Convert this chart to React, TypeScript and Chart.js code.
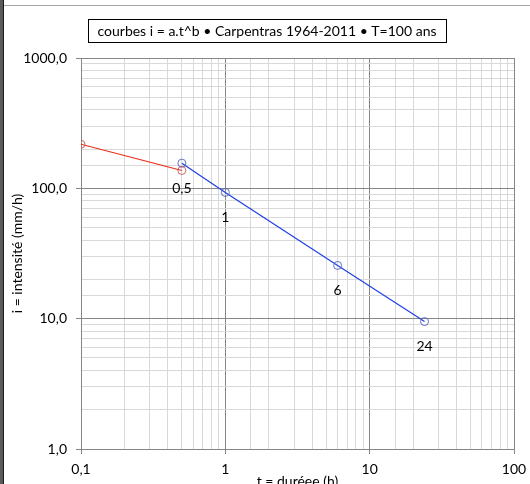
import React, { useEffect, useRef } from 'react';
import { Chart, registerables } from 'chart.js';

Chart.register(...registerables);

const TITLE = 'courbes i = a.t^b • Carpentras 1964-2011 • T=100 ans';
const X_TITLE = 't = duréee (h)';
const Y_TITLE = 'i = intensité (mm/h)';

const redDurations = [0.1, 0.5];
const redIntensities = [218, 137];
const blueDurations = [0.5, 1, 6, 24];
const blueIntensities = [156, 93, 25.6, 9.5];
const blueLabels = ['0,5', '1', '6', '24'];

const xMajorTicks = [0.1, 1, 10, 100];
const xMajorLabels = ['0,1', '1', '10', '100'];
const yMajorTicks = [1, 10, 100, 1000];
const yMajorLabels = ['1,0', '10,0', '100,0', '1000,0'];

const FONT = 'Lato, "Open Sans", sans-serif';
const MAJOR = '#868686';
const MINOR = '#d9d9d9';

const isPow10 = (v: number) => Math.abs(Math.log10(v) - Math.round(Math.log10(v))) < 1e-6;
const labelFor = (v: number, ticks: number[], labels: string[]) => {
  const i = ticks.findIndex((t) => Math.abs(v - t) / t < 1e-6);
  return i >= 0 ? labels[i] : '';
};

const decorPlugin = {
  id: 'decor',
  beforeDraw(chart: any) {
    const ctx = chart.ctx;
    ctx.save();
    ctx.fillStyle = '#ffffff';
    ctx.fillRect(0, 0, chart.width, chart.height);
    ctx.fillStyle = '#5a5a5a';
    ctx.fillRect(0, 0, 3, chart.height);
    ctx.fillStyle = '#1a1a1a';
    ctx.fillRect(3, 0, 1, chart.height);
    ctx.fillStyle = '#a6a6a6';
    ctx.fillRect(4, 5, chart.width - 4, 1);
    ctx.restore();
  },
  afterDraw(chart: any) {
    const ctx = chart.ctx;
    ctx.save();
    ctx.strokeStyle = '#000000';
    ctx.lineWidth = 1;
    ctx.strokeRect(88.5, 19.5, 358, 23);
    ctx.fillStyle = '#000000';
    ctx.font = '14px ' + FONT;
    ctx.textAlign = 'center';
    ctx.textBaseline = 'middle';
    ctx.fillText(TITLE, 267, 31);
    ctx.restore();
  },
};

const pointLabelPlugin = {
  id: 'pointLabels',
  afterDatasetsDraw(chart: any) {
    const ctx = chart.ctx;
    const meta = chart.getDatasetMeta(1);
    ctx.save();
    ctx.fillStyle = '#000000';
    ctx.font = '14px ' + FONT;
    ctx.textAlign = 'center';
    ctx.textBaseline = 'middle';
    meta.data.forEach((pt: any, i: number) => {
      ctx.fillText(blueLabels[i], pt.x, pt.y + 25);
    });
    ctx.restore();
  },
};

export default function App() {
  const ref = useRef<HTMLCanvasElement | null>(null);

  useEffect(() => {
    if (!ref.current) return;
    const chart = new Chart(ref.current, {
      type: 'line',
      data: {
        datasets: [
          {
            data: redDurations.map((x, i) => ({ x, y: redIntensities[i] })),
            borderColor: '#f02a14',
            borderWidth: 1.2,
            pointRadius: 4,
            pointBorderWidth: 1,
            pointBorderColor: 'rgba(192,80,77,0.85)',
            pointBackgroundColor: 'rgba(0,0,0,0)',
            tension: 0,
          },
          {
            data: blueDurations.map((x, i) => ({ x, y: blueIntensities[i] })),
            borderColor: '#2040e8',
            borderWidth: 1.2,
            pointRadius: 4,
            pointBorderWidth: 1,
            pointBorderColor: 'rgba(80,100,190,0.9)',
            pointBackgroundColor: 'rgba(0,0,0,0)',
            tension: 0,
          },
        ],
      },
      options: {
        animation: false,
        responsive: false,
        maintainAspectRatio: false,
        layout: { padding: { left: 4, top: 58, right: 16, bottom: 0 } },
        plugins: { legend: { display: false }, tooltip: { enabled: false } },
        scales: {
          x: {
            type: 'logarithmic',
            min: 0.1,
            max: 100,
            afterFit: (s: any) => { s.height = 51; s.paddingLeft = 0; s.paddingRight = 0; },
            grid: {
              color: (c: any) => (c.tick && isPow10(c.tick.value) ? MAJOR : MINOR),
              tickColor: (c: any) => (c.tick && isPow10(c.tick.value) ? MAJOR : 'rgba(0,0,0,0)'),
              tickLength: 5,
            },
            border: { color: MAJOR },
            ticks: {
              autoSkip: false,
              maxRotation: 0,
              padding: 7,
              color: '#000000',
              font: { family: FONT, size: 14 },
              callback: (v: any) => labelFor(Number(v), xMajorTicks, xMajorLabels),
            },
            title: {
              display: true,
              text: X_TITLE,
              color: '#000000',
              font: { family: FONT, size: 14 },
              padding: { top: 0, bottom: 10.6 },
            },
          },
          y: {
            type: 'logarithmic',
            min: 1,
            max: 1000,
            afterFit: (s: any) => { s.width = 77; s.paddingTop = 0; s.paddingBottom = 0; },
            grid: {
              color: (c: any) => (c.tick && isPow10(c.tick.value) ? MAJOR : MINOR),
              tickColor: (c: any) => (c.tick && isPow10(c.tick.value) ? MAJOR : 'rgba(0,0,0,0)'),
              tickLength: 5,
            },
            border: { color: MAJOR },
            ticks: {
              autoSkip: false,
              padding: 9,
              color: '#000000',
              font: { family: FONT, size: 14 },
              callback: (v: any) => labelFor(Number(v), yMajorTicks, yMajorLabels),
            },
            title: {
              display: true,
              text: Y_TITLE,
              color: '#000000',
              font: { family: FONT, size: 14 },
              padding: { top: 4.6, bottom: 0 },
            },
          },
        },
      } as any,
      plugins: [decorPlugin, pointLabelPlugin],
    });
    return () => chart.destroy();
  }, []);

  return (
    <div style={{ position: 'fixed', left: 0, top: 0, width: 530, height: 484, overflow: 'hidden', background: '#fff' }}>
      <canvas ref={ref} width={530} height={500} style={{ display: 'block', width: 530, height: 500 }} />
    </div>
  );
}
